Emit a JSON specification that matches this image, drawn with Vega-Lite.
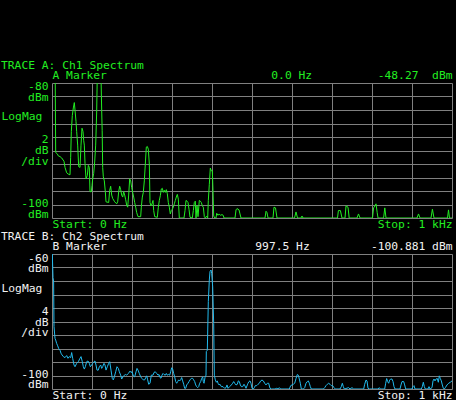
{
  "$schema": "https://vega.github.io/schema/vega-lite/v6.json",
  "background": "black",
  "padding": {"left": 1, "top": 59, "right": 4, "bottom": 2},
  "spacing": 0,
  "config": {
    "view": {"stroke": null},
    "font": "DejaVu Sans Mono",
    "axis": {"domain": false, "ticks": false, "labelFont": "DejaVu Sans Mono", "labelFontSize": 11.3, "gridColor": "#808080", "gridOpacity": 1, "gridWidth": 1, "title": null, "labelOverlap": false, "labelBound": false},
    "title": {"font": "DejaVu Sans Mono", "fontSize": 11.3, "fontWeight": "normal", "anchor": "start", "frame": "bounds", "offset": -2}
  },
  "datasets": {
    "a": [
      {"f":0,"v":-48.27},{"f":2.5,"v":-60},{"f":5,"v":-70},{"f":7.5,"v":-74},{"f":9.2,"v":-90.3},{"f":13.3,"v":-90.5},{"f":15.8,"v":-90.8},{"f":20,"v":-90.9},{"f":24.2,"v":-91.1},{"f":30,"v":-91.6},{"f":32.5,"v":-92.5},{"f":36.7,"v":-93.3},{"f":40.8,"v":-93.5},{"f":45,"v":-93.6},{"f":46.7,"v":-91},{"f":48.3,"v":-87.2},{"f":50.8,"v":-84.8},{"f":53.3,"v":-83.7},{"f":55.8,"v":-82.9},{"f":57.5,"v":-84},{"f":60,"v":-85.7},{"f":61.7,"v":-87.2},{"f":64.2,"v":-89.2},{"f":66.7,"v":-92.4},{"f":70,"v":-92.5},{"f":72.5,"v":-89.2},{"f":75,"v":-86.7},{"f":77.5,"v":-87.2},{"f":79.2,"v":-88.5},{"f":80.8,"v":-89.2},{"f":82.5,"v":-91.9},{"f":85,"v":-94.2},{"f":88.3,"v":-93.7},{"f":90.8,"v":-92.2},{"f":93.3,"v":-92.5},{"f":95,"v":-96.1},{"f":98.3,"v":-96.1},{"f":100,"v":-95.2},{"f":101.7,"v":-94.2},{"f":104.2,"v":-93.4},{"f":106.7,"v":-91.7},{"f":109.2,"v":-89.2},{"f":111.7,"v":-84.3},{"f":113.3,"v":-78.5},{"f":116.7,"v":-76},{"f":120,"v":-77},{"f":122.5,"v":-79},{"f":124.2,"v":-84},{"f":125.4,"v":-87},{"f":126.7,"v":-92.5},{"f":128.3,"v":-93.9},{"f":130.8,"v":-94.5},{"f":133.3,"v":-96.1},{"f":135,"v":-97.6},{"f":141.7,"v":-97.7},{"f":144.2,"v":-95.9},{"f":146.7,"v":-95.3},{"f":149.2,"v":-96.6},{"f":151.7,"v":-97.1},{"f":156.7,"v":-97.6},{"f":161.7,"v":-97.9},{"f":164.2,"v":-97.6},{"f":166.7,"v":-96.1},{"f":169.2,"v":-95.3},{"f":171.7,"v":-95.8},{"f":174.2,"v":-96.6},{"f":176.7,"v":-96.9},{"f":179.2,"v":-96.1},{"f":181.7,"v":-96.6},{"f":184.2,"v":-97.3},{"f":186.7,"v":-98.1},{"f":189.2,"v":-98.4},{"f":191.7,"v":-96.6},{"f":194.2,"v":-94.2},{"f":196.7,"v":-94.5},{"f":199.2,"v":-95.5},{"f":201.7,"v":-96.2},{"f":204.2,"v":-96.9},{"f":206.7,"v":-97.7},{"f":209.2,"v":-98.4},{"f":211.7,"v":-99.2},{"f":215,"v":-99.8},{"f":221.7,"v":-99.8},{"f":223.3,"v":-98.4},{"f":225.8,"v":-96.9},{"f":228.3,"v":-96.2},{"f":230.8,"v":-94.5},{"f":233.3,"v":-92},{"f":235.8,"v":-89.5},{"f":238.3,"v":-89.4},{"f":240.8,"v":-89.8},{"f":243.3,"v":-92},{"f":245,"v":-97.7},{"f":247.5,"v":-98.2},{"f":250,"v":-97.9},{"f":252.5,"v":-97.4},{"f":254.2,"v":-98.9},{"f":256.7,"v":-99.8},{"f":263.3,"v":-99.9},{"f":265.8,"v":-98.4},{"f":268.3,"v":-97.4},{"f":270.8,"v":-96.7},{"f":273.3,"v":-95.7},{"f":275.8,"v":-95.6},{"f":278.3,"v":-96.2},{"f":280.8,"v":-95.9},{"f":283.3,"v":-96.2},{"f":285.8,"v":-95.8},{"f":288.3,"v":-96.4},{"f":290.8,"v":-97.7},{"f":293.3,"v":-98.4},{"f":295.8,"v":-99.4},{"f":298.3,"v":-98.9},{"f":300.8,"v":-98.7},{"f":303.3,"v":-98.4},{"f":305.8,"v":-97.9},{"f":308.3,"v":-97.4},{"f":310.8,"v":-96.9},{"f":313.3,"v":-96.5},{"f":315.8,"v":-97.2},{"f":318.3,"v":-100},{"f":330,"v":-100},{"f":332.5,"v":-98.9},{"f":335,"v":-97.4},{"f":337.5,"v":-97.5},{"f":340,"v":-97.7},{"f":342.5,"v":-98.7},{"f":345,"v":-99.9},{"f":350.8,"v":-100},{"f":353.3,"v":-98.9},{"f":355.8,"v":-97.7},{"f":358.3,"v":-97.5},{"f":360,"v":-100},{"f":362.5,"v":-98.2},{"f":365,"v":-99.8},{"f":368.3,"v":-97.4},{"f":370.8,"v":-97.5},{"f":373.3,"v":-97.7},{"f":375.8,"v":-98.2},{"f":378.3,"v":-98.4},{"f":380.8,"v":-99.8},{"f":383.3,"v":-100},{"f":386.7,"v":-99.7},{"f":389.2,"v":-100},{"f":390.8,"v":-97.4},{"f":393.3,"v":-95},{"f":395.8,"v":-92.6},{"f":398.3,"v":-93},{"f":400.8,"v":-93},{"f":402.5,"v":-95.9},{"f":404.2,"v":-99.7},{"f":406.7,"v":-100},{"f":410,"v":-100},{"f":411.7,"v":-99.3},{"f":415,"v":-99.6},{"f":418,"v":-99.4},{"f":421,"v":-99.6},{"f":425,"v":-99.5},{"f":428,"v":-99.6},{"f":430,"v":-100},{"f":457.5,"v":-100},{"f":460,"v":-98.8},{"f":462.5,"v":-98.6},{"f":467.5,"v":-98.8},{"f":470,"v":-99.4},{"f":472.5,"v":-100},{"f":532.5,"v":-100},{"f":535,"v":-99},{"f":537.5,"v":-99.2},{"f":540,"v":-100},{"f":552.5,"v":-100},{"f":555,"v":-98.4},{"f":558.75,"v":-98.5},{"f":562.5,"v":-100},{"f":606.25,"v":-100},{"f":610,"v":-99.1},{"f":613.75,"v":-100},{"f":622.5,"v":-100},{"f":625,"v":-99.7},{"f":627.5,"v":-100},{"f":713.75,"v":-100},{"f":716,"v":-98.9},{"f":721,"v":-98.9},{"f":725,"v":-100},{"f":732.5,"v":-100},{"f":735,"v":-98.2},{"f":740,"v":-98.4},{"f":743,"v":-100},{"f":762.5,"v":-100},{"f":766.25,"v":-99.4},{"f":770,"v":-100},{"f":801.25,"v":-100},{"f":804,"v":-98.5},{"f":807.5,"v":-98.2},{"f":810,"v":-97.9},{"f":813,"v":-99.2},{"f":815,"v":-100},{"f":829,"v":-100},{"f":832,"v":-98.5},{"f":835,"v":-100},{"f":912.5,"v":-100},{"f":916.25,"v":-99.4},{"f":920,"v":-100},{"f":947.5,"v":-100},{"f":951,"v":-98.7},{"f":955,"v":-100},{"f":988.75,"v":-100},{"f":991.25,"v":-98.8},{"f":993.75,"v":-100},{"f":1000,"v":-100}
    ],
    "b": [
      {"f":0,"v":-57},{"f":2.5,"v":-67},{"f":4,"v":-68},{"f":5,"v":-81.5},{"f":7.5,"v":-85},{"f":9.2,"v":-85.5},{"f":11.7,"v":-86.5},{"f":14.2,"v":-87.2},{"f":16.7,"v":-88},{"f":20,"v":-88.5},{"f":22.5,"v":-89.4},{"f":25,"v":-89.9},{"f":28.3,"v":-90.4},{"f":32.5,"v":-90.7},{"f":36.7,"v":-90.1},{"f":40,"v":-90.9},{"f":43.3,"v":-90.4},{"f":46.7,"v":-90.7},{"f":49.2,"v":-89.2},{"f":51.7,"v":-90.9},{"f":55,"v":-92.9},{"f":57.5,"v":-93.4},{"f":61.7,"v":-92.4},{"f":65.8,"v":-91.9},{"f":70,"v":-90.9},{"f":72.5,"v":-90.4},{"f":75.8,"v":-91.9},{"f":78.3,"v":-93.4},{"f":80.8,"v":-94.1},{"f":83.3,"v":-93.4},{"f":86.7,"v":-91.9},{"f":90,"v":-91.7},{"f":93.3,"v":-92.4},{"f":95.8,"v":-93.4},{"f":99.2,"v":-92.9},{"f":101.7,"v":-92.4},{"f":105,"v":-91.9},{"f":107.5,"v":-91.7},{"f":110,"v":-92.9},{"f":112.5,"v":-94.4},{"f":115.8,"v":-94.4},{"f":118.3,"v":-93.4},{"f":121.7,"v":-92.9},{"f":124.2,"v":-93.9},{"f":126.7,"v":-93.4},{"f":130,"v":-92.4},{"f":132.5,"v":-92.9},{"f":135,"v":-94.4},{"f":138.3,"v":-93.4},{"f":141.7,"v":-92.4},{"f":144.2,"v":-91.9},{"f":147.5,"v":-94.4},{"f":150.8,"v":-96.9},{"f":153.3,"v":-97.3},{"f":155.8,"v":-96.4},{"f":159.2,"v":-94.9},{"f":162.5,"v":-93.4},{"f":165.8,"v":-93.9},{"f":168.3,"v":-94.9},{"f":171.7,"v":-95.9},{"f":174.2,"v":-97.05},{"f":177.5,"v":-96.4},{"f":180.8,"v":-95.9},{"f":184.2,"v":-95.7},{"f":186.7,"v":-95.9},{"f":190.8,"v":-95.4},{"f":195,"v":-94.7},{"f":197.5,"v":-95.1},{"f":200,"v":-94.9},{"f":203.3,"v":-96.1},{"f":206.7,"v":-96.4},{"f":210,"v":-94.9},{"f":212.5,"v":-93.9},{"f":215,"v":-94.4},{"f":218.3,"v":-95.4},{"f":221.7,"v":-96.4},{"f":225,"v":-96.9},{"f":228.3,"v":-97.3},{"f":231.7,"v":-97.3},{"f":234.2,"v":-96.7},{"f":236.7,"v":-96.1},{"f":239.2,"v":-97.3},{"f":241.7,"v":-98.6},{"f":245,"v":-98.3},{"f":248.3,"v":-95.9},{"f":252.5,"v":-95.9},{"f":255,"v":-95.1},{"f":258.3,"v":-94.9},{"f":261.7,"v":-95.4},{"f":265,"v":-95.9},{"f":267.5,"v":-95.7},{"f":270,"v":-96.6},{"f":272.5,"v":-96.8},{"f":275,"v":-95.9},{"f":277.5,"v":-95.4},{"f":280,"v":-95.7},{"f":283.3,"v":-95.9},{"f":285.8,"v":-95.4},{"f":288.3,"v":-95.9},{"f":291.7,"v":-95.7},{"f":294.2,"v":-95.9},{"f":296.7,"v":-94.9},{"f":299.2,"v":-93.7},{"f":301.7,"v":-94.1},{"f":304.2,"v":-95.4},{"f":306.7,"v":-96.4},{"f":309.2,"v":-97.8},{"f":311.7,"v":-98.3},{"f":314.2,"v":-97.8},{"f":316.7,"v":-97.3},{"f":319.2,"v":-97.6},{"f":321.7,"v":-97.3},{"f":324.2,"v":-96.6},{"f":326.7,"v":-97.6},{"f":329.2,"v":-98.6},{"f":331.7,"v":-99.8},{"f":334.2,"v":-99.8},{"f":336.7,"v":-98.8},{"f":340,"v":-98.3},{"f":342.5,"v":-97.8},{"f":345,"v":-97.3},{"f":348.3,"v":-96.85},{"f":351.7,"v":-96.85},{"f":354.2,"v":-97.3},{"f":356.7,"v":-97.8},{"f":359.2,"v":-98.8},{"f":361.7,"v":-99.3},{"f":364.2,"v":-99.6},{"f":366.7,"v":-99.3},{"f":369.2,"v":-98.3},{"f":371.7,"v":-97.8},{"f":374.2,"v":-96.85},{"f":376.7,"v":-96.4},{"f":378.3,"v":-97.8},{"f":380,"v":-98.3},{"f":382.5,"v":-96.6},{"f":385,"v":-95.9},{"f":385.8,"v":-88.9},{"f":388.3,"v":-88.5},{"f":390.8,"v":-74.1},{"f":393.3,"v":-67.7},{"f":395,"v":-65.2},{"f":397.5,"v":-64.75},{"f":399.2,"v":-65.7},{"f":401.7,"v":-69.7},{"f":404.2,"v":-80.6},{"f":405.8,"v":-95.9},{"f":408.3,"v":-97.3},{"f":410.8,"v":-98},{"f":413.3,"v":-97.6},{"f":415,"v":-98.3},{"f":417.5,"v":-98.8},{"f":420,"v":-98.6},{"f":423.3,"v":-99.3},{"f":427.5,"v":-99.3},{"f":431.7,"v":-99.8},{"f":435,"v":-99.6},{"f":437.5,"v":-98.8},{"f":440,"v":-99.8},{"f":444.2,"v":-99.3},{"f":448.3,"v":-98.8},{"f":451.7,"v":-98.3},{"f":454.2,"v":-97.8},{"f":456.7,"v":-98.3},{"f":460,"v":-98.8},{"f":463.3,"v":-98.6},{"f":465.8,"v":-97.6},{"f":468.3,"v":-97.8},{"f":470.8,"v":-98.8},{"f":473.3,"v":-99.3},{"f":476.7,"v":-99.3},{"f":480,"v":-98.6},{"f":482.5,"v":-99.1},{"f":485,"v":-99.8},{"f":488.3,"v":-98.8},{"f":490,"v":-98.3},{"f":492.5,"v":-97.8},{"f":495,"v":-97.6},{"f":497.5,"v":-98.3},{"f":500,"v":-99.8},{"f":503.3,"v":-100},{"f":505.8,"v":-99.6},{"f":508.3,"v":-99},{"f":511.7,"v":-99},{"f":515,"v":-98.6},{"f":518.3,"v":-98.3},{"f":521.7,"v":-97.6},{"f":525,"v":-97.35},{"f":528.3,"v":-97.6},{"f":531.7,"v":-98.3},{"f":535,"v":-98.8},{"f":538.3,"v":-98.3},{"f":541.7,"v":-98.3},{"f":545,"v":-99.8},{"f":548.3,"v":-100},{"f":557.5,"v":-100},{"f":561.7,"v":-99.8},{"f":565.8,"v":-100},{"f":568.3,"v":-99.6},{"f":571.7,"v":-100},{"f":593.3,"v":-100},{"f":596.7,"v":-99},{"f":600,"v":-98.8},{"f":603.3,"v":-98.6},{"f":606.7,"v":-98.3},{"f":610,"v":-96.9},{"f":613.3,"v":-95.7},{"f":615.8,"v":-95.9},{"f":618.3,"v":-97.05},{"f":620.8,"v":-98.3},{"f":623.3,"v":-100},{"f":628.3,"v":-100},{"f":631.7,"v":-99.6},{"f":635,"v":-98.3},{"f":638.3,"v":-97.8},{"f":640.8,"v":-97.6},{"f":643.3,"v":-98.3},{"f":645.8,"v":-99.3},{"f":648.3,"v":-100},{"f":678.3,"v":-100},{"f":681.7,"v":-99.6},{"f":685,"v":-99},{"f":688.3,"v":-98.6},{"f":691.7,"v":-98.3},{"f":695,"v":-98.6},{"f":698.3,"v":-99},{"f":701.7,"v":-99},{"f":705,"v":-99.6},{"f":708.3,"v":-100},{"f":720,"v":-100},{"f":723.3,"v":-99.3},{"f":725.8,"v":-98.3},{"f":728.3,"v":-99.3},{"f":730.8,"v":-100},{"f":741.7,"v":-99.6},{"f":745,"v":-100},{"f":750,"v":-99.6},{"f":754.2,"v":-100},{"f":779.2,"v":-100},{"f":781.7,"v":-98.6},{"f":785,"v":-97.35},{"f":787.5,"v":-97.6},{"f":790,"v":-99.8},{"f":793.3,"v":-100},{"f":815,"v":-100},{"f":818.3,"v":-99.6},{"f":820.8,"v":-100},{"f":831.7,"v":-100},{"f":834.2,"v":-98.3},{"f":836.7,"v":-96.9},{"f":839.2,"v":-97.8},{"f":841.7,"v":-98.3},{"f":844.2,"v":-97.35},{"f":846.7,"v":-97.05},{"f":850,"v":-97.05},{"f":852.5,"v":-97.8},{"f":855,"v":-99.3},{"f":857.5,"v":-100},{"f":870,"v":-100},{"f":872.5,"v":-98.8},{"f":875,"v":-97.8},{"f":879.2,"v":-97.8},{"f":881.7,"v":-98.8},{"f":884.2,"v":-100},{"f":900,"v":-100},{"f":902.5,"v":-99.3},{"f":905,"v":-99},{"f":907.5,"v":-100},{"f":923.3,"v":-100},{"f":925.8,"v":-99.3},{"f":928.3,"v":-98},{"f":930.8,"v":-99.3},{"f":933.3,"v":-100},{"f":940,"v":-100},{"f":942.5,"v":-99.3},{"f":945,"v":-100},{"f":950,"v":-99.6},{"f":952.5,"v":-97.6},{"f":955,"v":-97.05},{"f":957.5,"v":-97.6},{"f":960,"v":-97.05},{"f":963.3,"v":-96.9},{"f":965.8,"v":-98},{"f":968.3,"v":-96.1},{"f":970.8,"v":-96.9},{"f":973.3,"v":-97.6},{"f":975.8,"v":-98.8},{"f":978.3,"v":-99.8},{"f":980.8,"v":-100},{"f":983.3,"v":-99.6},{"f":987.5,"v":-98.8},{"f":991.7,"v":-98.3},{"f":995.8,"v":-98},{"f":1000,"v":-97.6}
    ]
  },
  "vconcat": [
    {
      "width": 400,
      "height": 135,
      "title": {"text": "TRACE A: Ch1 Spectrum", "color": "#22ee22"},
      "data": {"name": "a"},
      "resolve": {"scale": {"x": "independent"}, "axis": {"x": "independent", "y": "independent"}},
      "layer": [
        {
          "mark": {"type": "line", "color": "#22ee22", "strokeWidth": 1, "clip": true},
          "encoding": {
            "x": {"field": "f", "type": "quantitative", "scale": {"domain": [0, 1000], "nice": false, "zero": false},
              "axis": {"orient": "bottom", "values": [0,100,200,300,400,500,600,700,800,900,1000], "grid": true, "labelColor": "#22ee22", "labelFlush": true, "labelPadding": 0, "labelExpr": "datum.value == 0 ? 'Start: 0 Hz' : datum.value == 1000 ? 'Stop: 1 kHz' : ''"}},
            "y": {"field": "v", "type": "quantitative", "scale": {"domain": [-100, -80], "nice": false, "zero": false},
              "axis": {"orient": "left", "values": [-80.59, -82.08, -85, -88.39, -90.04, -91.56, -97.92, -99.41], "grid": false, "labelColor": "#22ee22", "labelBaseline": "middle", "labelAlign": {"condition": {"test": "datum.value == -85", "value": "left"}, "value": "right"}, "labelPadding": {"condition": {"test": "datum.value == -85", "value": 51}, "value": 4}, "labelExpr": "datum.value == -80.59 ? '-80' : datum.value == -82.08 ? 'dBm' : datum.value == -85 ? 'LogMag' : datum.value == -88.39 ? '2' : datum.value == -90.04 ? 'dB' : datum.value == -91.56 ? '/div' : datum.value == -97.92 ? '-100' : 'dBm'"}}
          }
        },
        {
          "mark": {"type": "line", "opacity": 0, "clip": true},
          "encoding": {
            "x": {"field": "f", "type": "quantitative", "scale": {"domain": [0, 1000], "nice": false, "zero": false},
              "axis": {"orient": "top", "values": [0, 598, 1000], "grid": false, "labelColor": "#22ee22", "labelFlush": true, "labelPadding": 3, "labelExpr": "datum.value == 0 ? 'A Marker' : datum.value == 1000 ? '-48.27\u00a0 dBm' : '0.0 Hz'"}},
            "y": {"field": "v", "type": "quantitative", "scale": {"domain": [-100, -80], "nice": false, "zero": false},
              "axis": {"orient": "right", "values": [-100,-98,-96,-94,-92,-90,-88,-86,-84,-82,-80], "grid": true, "labels": false}}
          }
        }
      ]
    },
    {
      "width": 400,
      "height": 135,
      "title": {"text": "TRACE B: Ch2 Spectrum", "color": "#f2f2f2"},
      "data": {"name": "b"},
      "resolve": {"scale": {"x": "independent"}, "axis": {"x": "independent", "y": "independent"}},
      "layer": [
        {
          "mark": {"type": "line", "color": "#22bbee", "strokeWidth": 1, "clip": true},
          "encoding": {
            "x": {"field": "f", "type": "quantitative", "scale": {"domain": [0, 1000], "nice": false, "zero": false},
              "axis": {"orient": "bottom", "values": [0,100,200,300,400,500,600,700,800,900,1000], "grid": true, "labelColor": "#f2f2f2", "labelFlush": true, "labelPadding": 0, "labelExpr": "datum.value == 0 ? 'Start: 0 Hz' : datum.value == 1000 ? 'Stop: 1 kHz' : ''"}},
            "y": {"field": "v", "type": "quantitative", "scale": {"domain": [-100, -60], "nice": false, "zero": false},
              "axis": {"orient": "left", "values": [-61.3, -64.44, -70.2, -76.9, -80.15, -83.2, -95.85, -98.8], "grid": false, "labelColor": "#f2f2f2", "labelBaseline": "middle", "labelAlign": {"condition": {"test": "datum.value == -70.2", "value": "left"}, "value": "right"}, "labelPadding": {"condition": {"test": "datum.value == -70.2", "value": 51}, "value": 4}, "labelExpr": "datum.value == -61.3 ? '-60' : datum.value == -64.44 ? 'dBm' : datum.value == -70.2 ? 'LogMag' : datum.value == -76.9 ? '4' : datum.value == -80.15 ? 'dB' : datum.value == -83.2 ? '/div' : datum.value == -95.85 ? '-100' : 'dBm'"}}
          }
        },
        {
          "mark": {"type": "line", "opacity": 0, "clip": true},
          "encoding": {
            "x": {"field": "f", "type": "quantitative", "scale": {"domain": [0, 1000], "nice": false, "zero": false},
              "axis": {"orient": "top", "values": [0, 575, 1000], "grid": false, "labelColor": "#f2f2f2", "labelFlush": true, "labelPadding": 3, "labelExpr": "datum.value == 0 ? 'B Marker' : datum.value == 1000 ? '-100.881 dBm' : '997.5 Hz'"}},
            "y": {"field": "v", "type": "quantitative", "scale": {"domain": [-100, -60], "nice": false, "zero": false},
              "axis": {"orient": "right", "values": [-100,-96,-92,-88,-84,-80,-76,-72,-68,-64,-60], "grid": true, "labels": false}}
          }
        }
      ]
    }
  ]
}
